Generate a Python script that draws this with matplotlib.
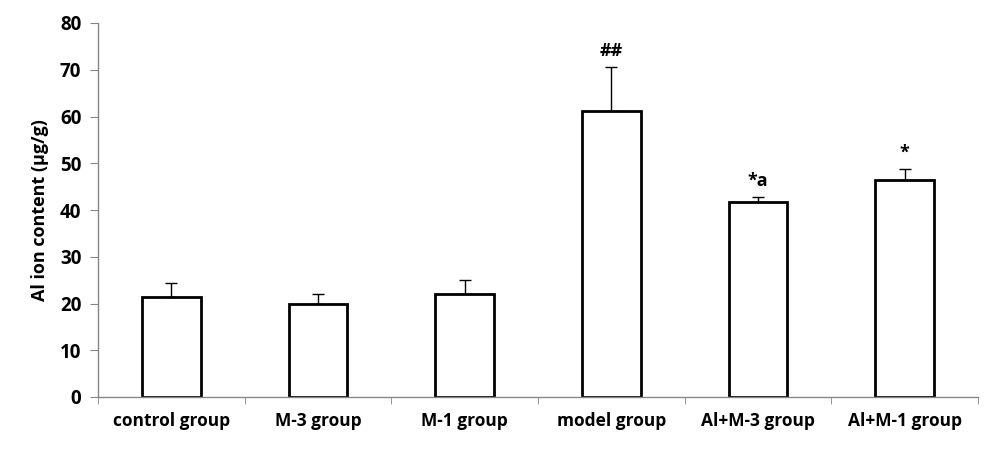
import matplotlib
matplotlib.use("Agg")
import matplotlib.pyplot as plt
import numpy as np

categories = ["control group", "M-3 group", "M-1 group", "model group", "Al+M-3 group", "Al+M-1 group"]
means = [21.4, 20.0, 22.1, 61.2, 41.8, 46.5]
errors = [3.0, 2.0, 2.9, 9.3, 0.9, 2.3]
marks = ["", "", "", "##", "*a", "*"]
yticks = [0, 10, 20, 30, 40, 50, 60, 70, 80]

plt.rcParams['font.family'] = ['Open Sans', 'DejaVu Sans']
fig = plt.figure(figsize=(10.02, 4.5), dpi=100)
ax = fig.add_axes([98/1002, 1-397/450, (978-98)/1002, (397-23)/450])

x = np.arange(len(categories))
ax.bar(x, means, width=0.4, color="white", edgecolor="black", linewidth=2.0, zorder=2)
ax.errorbar(x, means, yerr=[np.zeros(len(errors)), errors], fmt="none",
            ecolor="black", elinewidth=1.0, capsize=4, capthick=1.0, zorder=1)
for xi, m, e, t in zip(x, means, errors, marks):
    if t:
        ax.annotate(t, (xi, m + e), xytext=(0, 5), textcoords="offset points",
                    ha="center", va="bottom", fontsize=13, fontweight="bold")

ax.set_xlim(-0.5, len(categories) - 0.5)
ax.set_ylim(0, 80)
ax.set_yticks(yticks)
ax.set_yticklabels([str(v) for v in yticks], fontsize=13.5, fontweight="bold")
ax.set_xticks(x)
ax.set_xticklabels(categories, fontsize=12.5, fontweight="bold")
ax.set_xticks(np.arange(len(categories) + 1) - 0.5, minor=True)
ax.tick_params(axis="x", which="major", length=0, pad=11)
ax.tick_params(axis="x", which="minor", length=5, color="#868686", direction="out")
ax.tick_params(axis="y", length=6, color="#868686", pad=6)
for s in ["top", "right"]:
    ax.spines[s].set_visible(False)
for s in ["left", "bottom"]:
    ax.spines[s].set_color("#868686")
    ax.spines[s].set_linewidth(1.0)
ax.set_ylabel("Al ion content (µg/g)", fontsize=13, fontweight="bold", labelpad=8)

fig.savefig("out.png", dpi=100)
